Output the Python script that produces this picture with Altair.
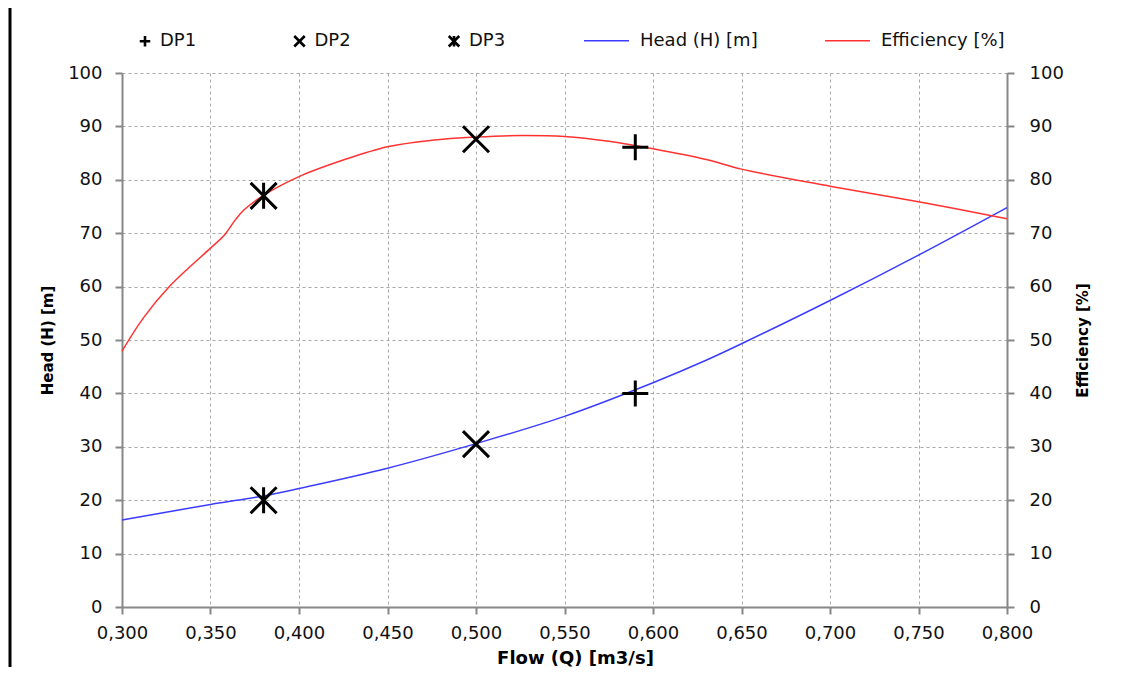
import altair as alt
import pandas as pd

# ---- data ----
q_head = [0.30, 0.35, 0.38, 0.40, 0.45, 0.50, 0.55, 0.60, 0.63, 0.65, 0.70, 0.75, 0.80]
head = [16.3, 19.2, 20.8, 22.2, 26.0, 30.6, 35.7, 42.0, 46.2, 49.3, 57.4, 65.9, 74.8]

q_eff = [0.300, 0.312, 0.327, 0.350, 0.358, 0.364, 0.369, 0.380, 0.400, 0.425, 0.450,
         0.475, 0.500, 0.525, 0.550, 0.575, 0.600, 0.630, 0.650, 0.700, 0.750, 0.800]
eff = [47.9, 54.1, 60.1, 67.2, 69.7, 72.5, 74.4, 77.1, 80.6, 83.7, 86.2,
       87.4, 88.0, 88.3, 88.1, 87.2, 85.8, 83.8, 82.0, 78.8, 75.9, 72.7]

dp_names = ["DP1", "DP2", "DP3"]
dp_q = [0.59, 0.50, 0.38]
dp_head = [40.0, 30.5, 20.0]
dp_eff = [86.1, 87.6, 77.0]

series_names = ["Head (H) [m]", "Efficiency [%]"]
series_colors = ["#3c3cff", "#ff3232"]

x_ticks = [0.30, 0.35, 0.40, 0.45, 0.50, 0.55, 0.60, 0.65, 0.70, 0.75, 0.80]
y_ticks = [0, 10, 20, 30, 40, 50, 60, 70, 80, 90, 100]

# ---- tables ----
head_df = pd.DataFrame({"Q": q_head, "v": head, "series": series_names[0]})
eff_df = pd.DataFrame({"Q": q_eff, "v": eff, "series": series_names[1]})
dp_head_df = pd.DataFrame({"Q": dp_q, "v": dp_head, "dp": dp_names})
dp_eff_df = pd.DataFrame({"Q": dp_q, "v": dp_eff, "dp": dp_names})

FONT = "DejaVu Sans"
AXIS_GRAY = "#878787"
PLUS = "M-1,0L1,0M0,-1L0,1"
CROSS = "M-1,-1L1,1M1,-1L-1,1"
STAR = "M-1,-1L1,1M1,-1L-1,1M0,-1L0,1"

x_enc = alt.X(
    "Q:Q",
    scale=alt.Scale(domain=[0.3, 0.8], nice=False, zero=False),
    axis=alt.Axis(
        values=x_ticks,
        labelExpr="replace(format(datum.value, '.3f'), '.', ',')",
        labelFlush=False,
        title="Flow (Q) [m3/s]",
        titleX=453, titleY=51, titleAlign="center", titleBaseline="middle",
        titleFontSize=18, titleFontWeight="bold",
        grid=True, tickSize=7, labelPadding=10,
    ),
)

y_scale = alt.Scale(domain=[0, 100], nice=False)

y_left = alt.Y(
    "v:Q", scale=y_scale,
    axis=alt.Axis(
        orient="left", values=y_ticks, grid=True, title="Head (H) [m]",
        labelFlush=False,
        titleAngle=270, titleX=-75, titleY=267, titleAlign="center",
        titleBaseline="middle", titleFontSize=15, titleFontWeight="bold",
        tickSize=7, labelPadding=13,
    ),
)
y_right = alt.Y(
    "v:Q", scale=y_scale,
    axis=alt.Axis(
        orient="right", values=y_ticks, grid=False, title="Efficiency [%]",
        labelFlush=False,
        titleAngle=270, titleX=75, titleY=267, titleAlign="center",
        titleBaseline="middle", titleFontSize=15, titleFontWeight="bold",
        tickSize=7, labelPadding=15,
    ),
)

color_enc = alt.Color(
    "series:N",
    scale=alt.Scale(domain=series_names, range=series_colors),
    legend=alt.Legend(
        title=None, orient="none", direction="horizontal",
        legendX=461, legendY=-56, symbolType="stroke", symbolSize=2025,
        symbolStrokeWidth=1.5, columnPadding=64, labelOffset=10,
        labelFontSize=18, labelFont=FONT, labelColor="#111",
        padding=0, labelLimit=300,
    ),
)
shape_enc = alt.Shape(
    "dp:N",
    scale=alt.Scale(domain=dp_names, range=[PLUS, CROSS, STAR]),
    legend=alt.Legend(
        title=None, orient="none", direction="horizontal",
        legendX=14, legendY=-41, symbolSize=110, symbolStrokeWidth=2.6,
        symbolStrokeColor="black", symbolFillColor="transparent",
        columnPadding=91.5, gridAlign="all", labelOffset=6,
        labelFontSize=18, labelFont=FONT, labelColor="#111", padding=0,
    ),
)

head_line = alt.Chart(head_df).mark_line(interpolate="catmull-rom", strokeWidth=1.5).encode(
    x=x_enc, y=y_left, color=color_enc
)
head_pts = alt.Chart(dp_head_df).mark_point(
    filled=False, size=676, strokeWidth=3, color="black", opacity=1
).encode(x=x_enc, y=y_left, shape=shape_enc)

eff_line = alt.Chart(eff_df).mark_line(interpolate="catmull-rom", strokeWidth=1.5).encode(
    x=x_enc, y=y_right, color=color_enc
)
eff_pts = alt.Chart(dp_eff_df).mark_point(
    filled=False, size=676, strokeWidth=3, color="black", opacity=1
).encode(x=x_enc, y=y_right, shape=shape_enc)

# left frame edge of the original picture (decoration)
frame = alt.Chart(pd.DataFrame({"k": [0]})).mark_rule(color="black", strokeWidth=3).encode(
    x=alt.value(-112), y=alt.value(-65), y2=alt.value(602)
)

left = alt.layer(head_line, head_pts)
right = alt.layer(eff_line, eff_pts)

chart = (
    alt.layer(left, right, frame)
    .resolve_scale(y="independent")
    .properties(
        width=885, height=534,
        autosize=alt.AutoSizeParams(type="none"),
        padding={"left": 114, "top": 65, "right": 107, "bottom": 60},
        background="white",
    )
    .configure_view(stroke="transparent")
    .configure_axis(
        labelFont=FONT, titleFont=FONT, labelFontSize=18, labelColor="#111",
        titleColor="#000", domainColor=AXIS_GRAY, domainWidth=2,
        tickColor=AXIS_GRAY, tickWidth=2, gridColor="#a8a8a8",
        gridDash=[3, 3], gridWidth=1,
    )
)

chart.save("out.html", embed_options={"renderer": "svg", "actions": False})
